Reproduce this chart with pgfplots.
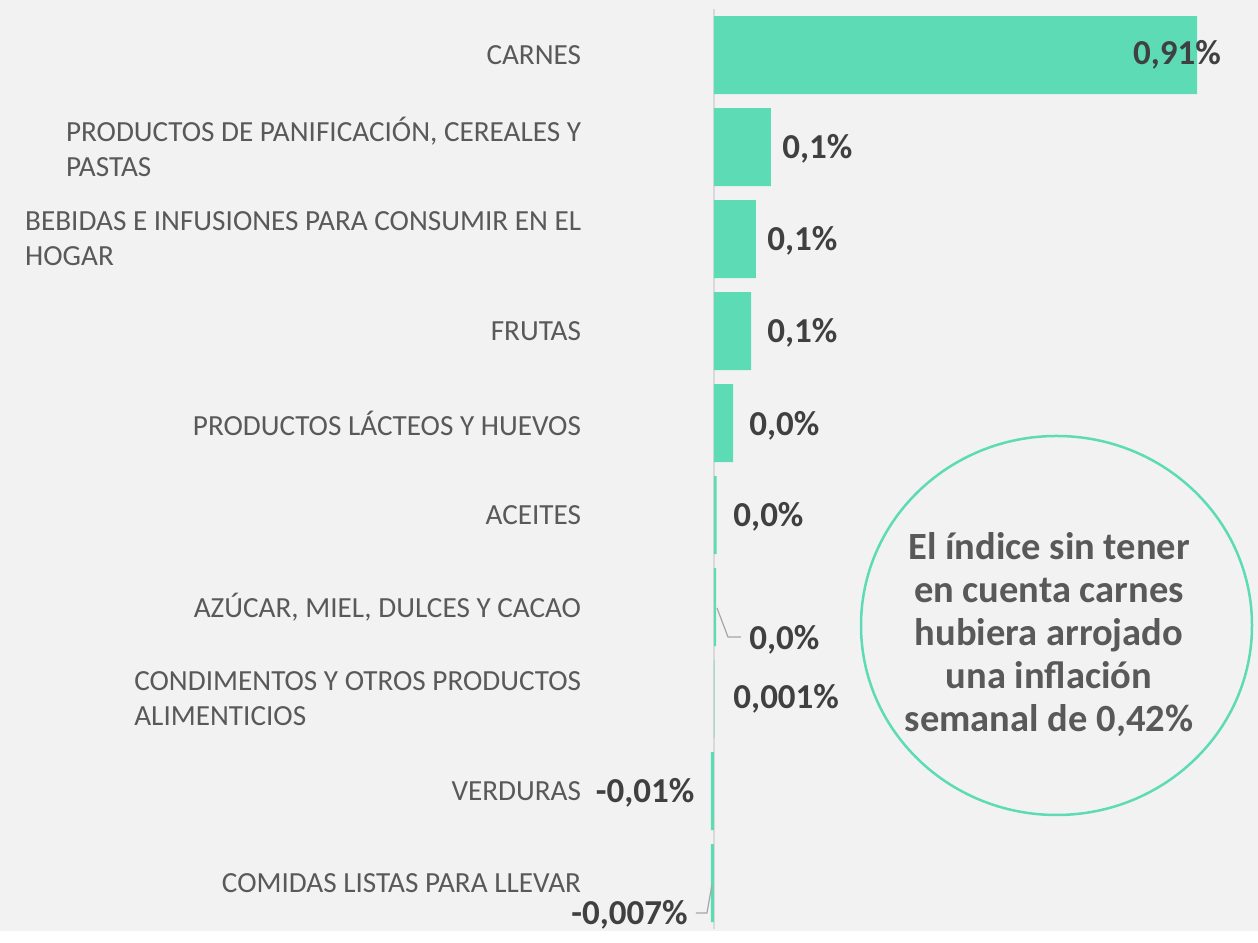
\documentclass[border=0pt]{standalone}
\usepackage{pgfplots}
\pgfplotsset{compat=1.18}
\usepackage{fontspec}
\setmainfont{Carlito}
\definecolor{bg}{HTML}{F2F2F2}
\definecolor{barc}{HTML}{5CDBB4}
\definecolor{lab}{HTML}{595959}
\definecolor{val}{HTML}{404040}
\definecolor{zero}{HTML}{D9D9D9}
\definecolor{lead}{HTML}{A6A6A6}
\begin{document}
\begin{tikzpicture}[x=0.5pt,y=0.5pt]
\fill[bg] (0,0) rectangle (1258,931);
\begin{axis}[
  at={(607.8pt/2,1pt)}, anchor=south west,
  scale only axis, width=318.5pt, height=460pt,
  xmin=-0.2, xmax=1.0, ymin=-0.5, ymax=9.5,
  y dir=reverse, xbar, bar width=39pt,
  axis line style={draw=none}, tick style={draw=none},
  xtick={0}, xticklabels={}, xmajorgrids,
  major grid style={draw=zero, line width=0.8pt},
  ytick={0,...,9},
  yticklabels={{CARNES},{PRODUCTOS DE PANIFICACIÓN, CEREALES Y\\PASTAS},{BEBIDAS E INFUSIONES PARA CONSUMIR EN EL\\HOGAR},{FRUTAS},{PRODUCTOS LÁCTEOS Y HUEVOS},{ACEITES},{AZÚCAR, MIEL, DULCES Y CACAO},{CONDIMENTOS Y OTROS PRODUCTOS\\ALIMENTICIOS},{VERDURAS},{COMIDAS LISTAS PARA LLEVAR}},
  yticklabel style={align=left, inner sep=0pt, xshift=-8.9pt, text=lab, font=\fontsize{14.6}{17.5}\selectfont},
  clip=false,
]
\addplot[fill=barc, draw=none] coordinates {
(0.91,0) (0.107,1) (0.079,2) (0.070,3) (0.036,4) (0.005,5) (0.004,6) (0.001,7) (-0.006,8) (-0.006,9)};
\begin{scope}[every node/.style={font=\bfseries\fontsize{17.5}{21}\selectfont, text=val, inner sep=0pt}]
\node[anchor=west] at (axis cs:0.789,0) {0,91\%};
\node[anchor=west] at (axis cs:0.128,1.02) {0,1\%};
\node[anchor=west] at (axis cs:0.100,2.02) {0,1\%};
\node[anchor=west] at (axis cs:0.100,3.02) {0,1\%};
\node[anchor=west] at (axis cs:0.066,4.03) {0,0\%};
\node[anchor=west] at (axis cs:0.036,5.02) {0,0\%};
\node[anchor=west] at (axis cs:0.066,6.36) {0,0\%};
\node[anchor=west] at (axis cs:0.036,7.0) {0,001\%};
\node[anchor=east] at (axis cs:-0.036,8.02) {-0,01\%};
\node[anchor=east] at (axis cs:-0.049,9.35) {-0,007\%};
\end{scope}
\draw[lead, line width=0.6pt] (axis cs:0.0057,6.01) -- (axis cs:0.0264,6.326) -- (axis cs:0.0509,6.326);
\draw[lead, line width=0.6pt] (axis cs:-0.0038,9.02) -- (axis cs:-0.0132,9.326) -- (axis cs:-0.0339,9.326);
\end{axis}
\draw[barc, line width=1.25pt] (1056.5,305.5) ellipse [x radius=97.75pt, y radius=94.75pt];
\node[align=center, text=lab, font=\bfseries\fontsize{19.25}{21.5}\selectfont] at (1049,296) {El índice sin tener\\en cuenta carnes\\hubiera arrojado\\una inflación\\semanal de 0,42\%};
\end{tikzpicture}
\end{document}
